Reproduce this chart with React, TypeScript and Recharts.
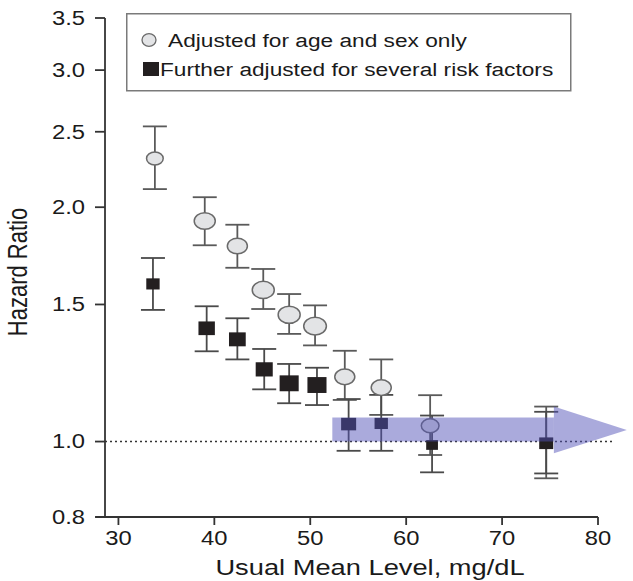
import { ScatterChart, Scatter, XAxis, YAxis, ZAxis, ErrorBar, ReferenceLine, ReferenceArea, Legend } from 'recharts'

const FONT = '"Liberation Sans", Arial, Helvetica, sans-serif'
const SX = 1.22 // the original figure is stretched horizontally

// Adjusted for age and sex only (grey circles)
const ageSexLevel = [33.8, 39.0, 42.4, 45.1, 47.8, 50.5, 53.6, 57.4, 62.5, 74.6]
const ageSexHR = [2.31, 1.92, 1.783, 1.566, 1.455, 1.407, 1.211, 1.173, 1.048, 0.997]
const ageSexLow = [2.11, 1.787, 1.672, 1.48, 1.375, 1.329, 1.131, 1.082, 0.961, 0.897]
const ageSexHigh = [2.54, 2.06, 1.899, 1.666, 1.547, 1.496, 1.308, 1.275, 1.147, 1.109]
const ageSexWeight = [0.54, 0.86, 0.78, 0.94, 0.94, 1.0, 0.78, 0.78, 0.61, 0.22]

// Further adjusted for several risk factors (black squares)
const fullLevel = [33.6, 39.2, 42.4, 45.2, 47.8, 50.7, 54.0, 57.4, 62.7, 74.6]
const fullHR = [1.594, 1.398, 1.353, 1.238, 1.188, 1.182, 1.053, 1.055, 0.99, 0.995]
const fullLow = [1.476, 1.306, 1.275, 1.167, 1.12, 1.114, 0.973, 0.973, 0.913, 0.91]
const fullHigh = [1.721, 1.492, 1.44, 1.315, 1.258, 1.244, 1.134, 1.148, 1.08, 1.092]
const fullWeight = [0.49, 0.74, 0.77, 0.8, 1.0, 1.0, 0.62, 0.49, 0.38, 0.54]

const xTicks = [30, 40, 50, 60, 70, 80]
const yTicks = [0.8, 1.0, 1.5, 2.0, 2.5, 3.0, 3.5]

// arrow annotation (data units)
const arrowBody = { x1: 52.3, x2: 75.4, y1: 1.0, y2: 1.074 }
const arrowHead = { x1: 75.4, x2: 83.0, y1: 0.966, y2: 1.109 }

const toRows = (xs: number[], hr: number[], lo: number[], hi: number[], w: number[]) =>
    xs.map((x, i) => ({ level: x, hr: hr[i], err: [hr[i] - lo[i], hi[i] - hr[i]], w: w[i] }))

const ageSexRows = toRows(ageSexLevel, ageSexHR, ageSexLow, ageSexHigh, ageSexWeight)
const fullRows = toRows(fullLevel, fullHR, fullLow, fullHigh, fullWeight)

function markWidth(p: any) {
    if (p.width) return p.width
    return 2 * Math.sqrt((p.size ?? 100) / Math.PI)
}

const CircleMark = (p: any) => {
    const r = markWidth(p) / 2
    return <ellipse cx={p.cx} cy={p.cy} rx={r} ry={r / 1.28} fill="#e3e4e6" stroke="#6a6a6a" strokeWidth={1.5} />
}

const SquareMark = (p: any) => {
    const w = markWidth(p) * 0.84
    const h = w / 1.2
    return <rect x={p.cx - w / 2} y={p.cy - h / 2} width={w} height={h} fill="#231f20" />
}

const ArrowHead = (p: any) => (
    <polygon
        points={`${p.x},${p.y} ${p.x + p.width},${p.y + p.height / 2} ${p.x},${p.y + p.height}`}
        fill="#5252b8"
        fillOpacity={0.49}
    />
)

function YTick({ x, y, payload }: any) {
    return (
        <g transform={`translate(${x},${y})`}>
            <text transform={`scale(${SX},1)`} textAnchor="end" dy="0.355em" fontSize={19.5} fontFamily={FONT} fill="#1a1a1a">
                {Number(payload.value).toFixed(1)}
            </text>
        </g>
    )
}

function XTick({ x, y, payload }: any) {
    return (
        <g transform={`translate(${x},${y})`}>
            <text transform={`scale(${SX},1)`} textAnchor="middle" dy="0.71em" fontSize={19.5} fontFamily={FONT} fill="#1a1a1a">
                {payload.value}
            </text>
        </g>
    )
}

function XTitle({ viewBox }: any) {
    const vb = viewBox ?? { x: 105, y: 517, width: 493 }
    return (
        <text
            transform={`translate(${vb.x + vb.width / 2 + 18.5},${vb.y + 58}) scale(1.24,1)`}
            textAnchor="middle"
            fontSize={22}
            fontFamily={FONT}
            fill="#1a1a1a"
        >
            Usual Mean Level, mg/dL
        </text>
    )
}

function YTitle({ viewBox }: any) {
    const vb = viewBox ?? { x: 0, y: 18, height: 499 }
    return (
        <text
            transform={`translate(${vb.x + 27},${vb.y + vb.height / 2 + 4.5}) scale(1.24,1) rotate(-90)`}
            textAnchor="middle"
            fontSize={22}
            fontFamily={FONT}
            fill="#1a1a1a"
        >
            Hazard Ratio
        </text>
    )
}

function LegendBox({ payload }: any) {
    return (
        <svg width={446} height={79} style={{ display: 'block' }}>
            <rect x={0.75} y={0.75} width={444} height={77} fill="#fff" stroke="#7a7a7a" strokeWidth={1.5} />
            {(payload ?? []).map((entry: any, i: number) => {
                const isCircle = entry.type === 'circle'
                const rowY = i === 0 ? 27 : 56
                return (
                    <g key={i}>
                        {isCircle ? (
                            <ellipse cx={23} cy={rowY} rx={7} ry={6.3} fill="#e3e4e6" stroke="#6a6a6a" strokeWidth={1.3} />
                        ) : (
                            <rect x={17} y={rowY - 7} width={16} height={14} fill="#231f20" />
                        )}
                        <text
                            transform={`translate(${isCircle ? 42 : 34},${rowY + 6.6}) scale(${SX},1)`}
                            fontSize={18.6}
                            fontFamily={FONT}
                            fill="#1a1a1a"
                        >
                            {entry.value}
                        </text>
                    </g>
                )
            })}
        </svg>
    )
}

export default function App() {
    return (
        <div style={{ position: 'absolute', left: 0, top: 0, background: '#fff' }}>
            <ScatterChart width={633} height={581} margin={{ top: 18, right: 35, bottom: 0, left: 0 }}>
                <XAxis
                    type="number"
                    dataKey="level"
                    domain={[28.6, 80]}
                    ticks={xTicks}
                    allowDataOverflow
                    height={64}
                    axisLine={false}
                    tickSize={8}
                    tickMargin={6}
                    tickLine={{ stroke: '#333', strokeWidth: 1.8 }}
                    tick={<XTick />}
                    label={{ content: XTitle }}
                />
                <YAxis
                    type="number"
                    dataKey="hr"
                    scale="log"
                    domain={[0.8, 3.5]}
                    ticks={yTicks}
                    allowDataOverflow
                    width={105}
                    tickSize={10}
                    tickMargin={10}
                    axisLine={{ stroke: '#333', strokeWidth: 1.8 }}
                    tickLine={{ stroke: '#333', strokeWidth: 1.8 }}
                    tick={<YTick />}
                    label={{ content: YTitle }}
                />
                <ZAxis type="number" dataKey="w" domain={[0, 1]} range={[0, 405]} />

                {/* x axis line runs a little past the y axis */}
                <ReferenceLine
                    segment={[{ x: 27.6, y: 0.8 }, { x: 80, y: 0.8 }]}
                    ifOverflow="visible"
                    stroke="#333"
                    strokeWidth={1.8}
                />
                <ReferenceLine
                    segment={[{ x: 28.6, y: 1.0 }, { x: 81.5, y: 1.0 }]}
                    ifOverflow="visible"
                    stroke="#333"
                    strokeWidth={1.6}
                    strokeDasharray="2 3"
                />

                <Scatter
                    name="Adjusted for age and sex only"
                    data={ageSexRows}
                    legendType="circle"
                    fill="#e3e4e6"
                    shape={CircleMark}
                    isAnimationActive={false}
                >
                    <ErrorBar dataKey="err" direction="y" width={12} stroke="#5a5a5a" strokeWidth={1.8} />
                </Scatter>
                <Scatter
                    name="Further adjusted for several risk factors"
                    data={fullRows}
                    legendType="square"
                    fill="#231f20"
                    shape={SquareMark}
                    isAnimationActive={false}
                >
                    <ErrorBar dataKey="err" direction="y" width={12} stroke="#4a4a4a" strokeWidth={1.8} />
                </Scatter>

                <ReferenceArea {...arrowBody} ifOverflow="visible" fill="#5252b8" fillOpacity={0.49} stroke="none" zIndex={700} />
                <ReferenceArea {...arrowHead} ifOverflow="visible" shape={ArrowHead} zIndex={700} />

                <Legend
                    layout="horizontal"
                    verticalAlign="middle"
                    align="center"
                    content={LegendBox}
                    wrapperStyle={{ left: 126, top: 13, width: 446, height: 79 }}
                />
            </ScatterChart>
        </div>
    )
}
